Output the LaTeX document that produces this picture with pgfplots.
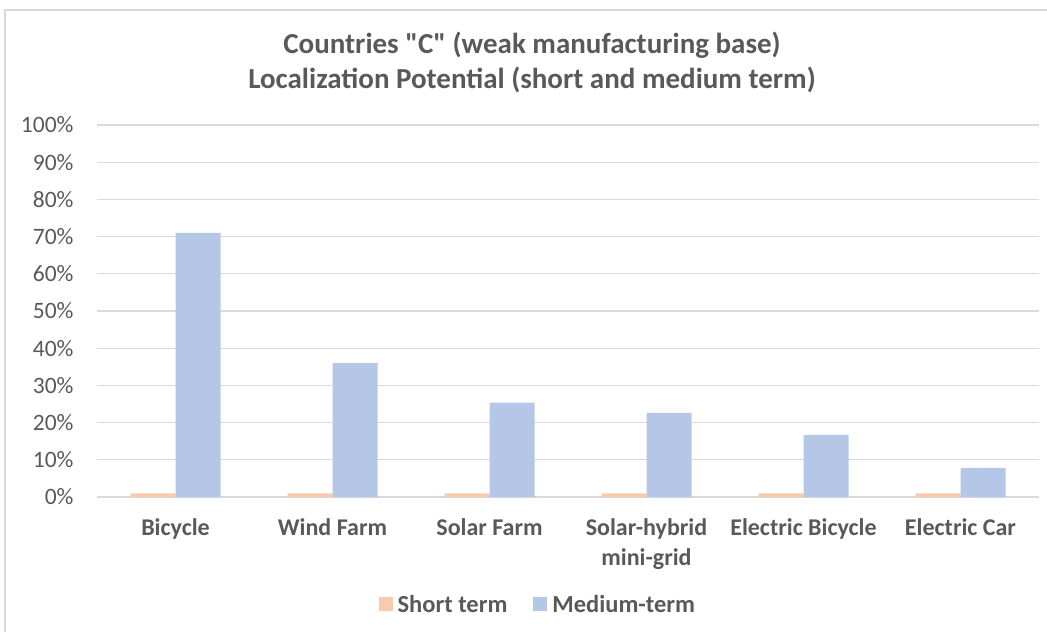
\documentclass[border=0pt]{standalone}
\usepackage{pgfplots}
\pgfplotsset{compat=1.18}
\usepackage{fontspec}
\setmainfont{Carlito}[Ligatures=TeXOff]
\definecolor{txt}{HTML}{595959}
\definecolor{gridc}{HTML}{D9D9D9}
\definecolor{shortc}{HTML}{F8CBAD}
\definecolor{medc}{HTML}{B4C7E7}
\begin{document}
\begin{tikzpicture}[x=1pt,y=1pt]
\path[use as bounding box] (0,0) rectangle (1047,632);
\draw[gridc, line width=1.2pt] (5,0) -- (5,622) -- (1047,622);
\node[text=txt, font=\fontsize{29}{35}\selectfont\bfseries, align=center] at (532,632-62) {Countries "C" (weak manufacturing base)\\Localization Potential (short and medium term)};
\begin{axis}[
  at={(97pt,135pt)}, anchor=south west,
  scale only axis, width=942pt, height=372pt,
  ybar=0pt, bar width=45pt,
  xmin=-0.5, xmax=5.5, ymin=0, ymax=100,
  xtick=data,
  xticklabels={Bicycle,Wind Farm,Solar Farm,{Solar-hybrid\\mini-grid},Electric Bicycle,Electric Car},
  ytick={0,10,...,100},
  yticklabel={\pgfmathprintnumber{\tick}\%},
  /pgf/number format/assume math mode=true,
  xmajorgrids=false, ymajorgrids=true,
  grid style={draw=gridc, line width=1.3pt},
  axis line style={draw=none},
  major tick length=0pt,
  tick label style={text=txt, font=\fontsize{23.5}{30}\selectfont},
  xticklabel style={font=\fontsize{24}{30}\selectfont\bfseries, align=center, anchor=north, yshift=-18pt},
  yticklabel style={anchor=east, xshift=-20pt},
  legend style={at={(0.468,-0.29)}, anchor=center, legend columns=2, draw=none, fill=none,
     font=\fontsize{24.5}{30}\selectfont\bfseries, text=txt,
     /tikz/every even column/.append style={column sep=24pt},
     /tikz/every odd column/.append style={column sep=3pt}},
  legend image code/.code={\fill[#1] (0pt,-6pt) rectangle (14pt,8pt);},
]
\addplot[fill=shortc, draw=none] coordinates {(0,1) (1,1) (2,1) (3,1) (4,1) (5,1)};
\addplot[fill=medc, draw=none] coordinates {(0,71) (1,36) (2,25.4) (3,22.6) (4,16.7) (5,7.8)};
\legend{Short term, Medium-term}
\end{axis}
\end{tikzpicture}
\end{document}
